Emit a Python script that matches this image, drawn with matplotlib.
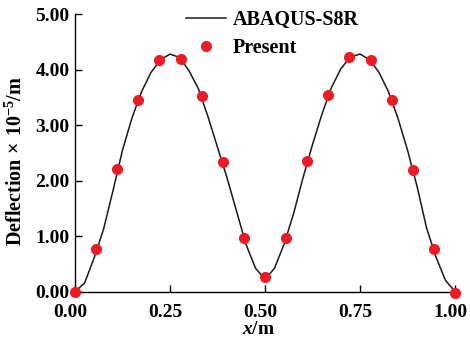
import matplotlib.pyplot as plt
from matplotlib.transforms import ScaledTranslation

plt.rcParams['font.family'] = ['Liberation Serif', 'DejaVu Serif']
plt.rcParams['font.weight'] = 'bold'
plt.rcParams['axes.labelweight'] = 'bold'
plt.rcParams['mathtext.fontset'] = 'custom'
plt.rcParams['mathtext.rm'] = 'Liberation Serif:bold'
plt.rcParams['mathtext.bf'] = 'Liberation Serif:bold'
plt.rcParams['mathtext.it'] = 'Liberation Serif:bold:italic'
plt.rcParams['mathtext.default'] = 'bf'

# ABAQUS-S8R curve
abaqus_x = [0.0, 0.025, 0.05, 0.075, 0.1, 0.125, 0.15, 0.175, 0.2, 0.225,
            0.25, 0.275, 0.3, 0.325, 0.35, 0.375, 0.4, 0.425, 0.45, 0.475,
            0.5, 0.525, 0.55, 0.575, 0.6, 0.625, 0.65, 0.675, 0.7, 0.725,
            0.75, 0.775, 0.8, 0.825, 0.85, 0.875, 0.9, 0.925, 0.95, 0.975, 1.0]
abaqus_y = [0.0, 0.15, 0.60, 1.12, 1.82, 2.55, 3.13, 3.60, 3.95, 4.18,
            4.28, 4.22, 3.98, 3.65, 3.15, 2.60, 2.05, 1.45, 0.85, 0.42,
            0.22, 0.42, 0.85, 1.40, 2.05, 2.65, 3.20, 3.68, 4.02, 4.23,
            4.28, 4.18, 3.95, 3.60, 3.12, 2.55, 1.90, 1.15, 0.62, 0.20, 0.0]

# Present method points
present_x = [0.0, 0.056, 0.111, 0.167, 0.222, 0.278, 0.333, 0.389, 0.444, 0.5,
             0.556, 0.611, 0.667, 0.722, 0.778, 0.833, 0.889, 0.944, 1.0]
present_y = [0.0, 0.77, 2.21, 3.46, 4.17, 4.20, 3.52, 2.33, 0.96, 0.26,
             0.96, 2.36, 3.54, 4.22, 4.17, 3.46, 2.19, 0.76, -0.02]

xticks = [0.0, 0.25, 0.5, 0.75, 1.0]
yticks = [0.0, 1.0, 2.0, 3.0, 4.0, 5.0]

fig = plt.figure(figsize=(4.7, 3.45), dpi=100)
ax = fig.add_axes([0.1596, 0.155, 0.8085, 0.804])

ax.plot(abaqus_x, abaqus_y, color='#1a1a1a', lw=1.1, label='ABAQUS-S8R')
ax.plot(present_x, present_y, 'o', color='#ED1C24', ms=8, mec='none',
        label='Present', clip_on=False, zorder=3)

ax.set_xlim(0, 1)
ax.set_ylim(0, 5)
ax.set_xticks(xticks)
ax.set_yticks(yticks)
ax.set_xticklabels(['%.2f' % v for v in xticks])
ax.set_yticklabels(['%.2f' % v for v in yticks])
ax.tick_params(direction='in', length=5, width=1, labelsize=14, pad=4)
ax.tick_params(axis='x', pad=9)

# x tick labels sit a little to the left of their ticks in the original
shift = ScaledTranslation(-5 / 100, 0, fig.dpi_scale_trans)
for lab in ax.get_xticklabels():
    lab.set_transform(lab.get_transform() + shift)

for s in ['top', 'right']:
    ax.spines[s].set_visible(False)
for s in ['left', 'bottom']:
    ax.spines[s].set_linewidth(1.0)

ax.set_xlabel(r'$\it{x}$/m', fontsize=14)
ax.xaxis.set_label_coords(0.484, -0.108)
ax.set_ylabel(r'Deflection$\,\times\,$10$^{-5}$/m', fontsize=14.5)
ax.yaxis.set_label_coords(-0.128, 0.47)

ax.legend(loc='upper left', bbox_to_anchor=(186 / 470, 1 - 10 / 345),
          bbox_transform=fig.transFigure, frameon=False, fontsize=14.5,
          handlelength=2.0, handletextpad=0.3, labelspacing=0.4,
          borderpad=0, borderaxespad=0)

plt.savefig('out.png', dpi=100)
